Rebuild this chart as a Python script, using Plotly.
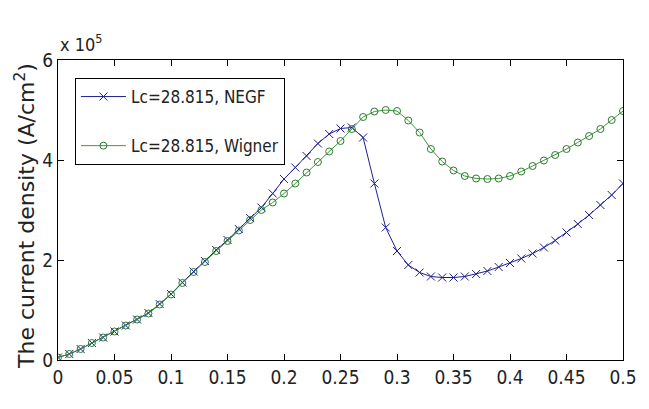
import plotly.graph_objects as go

# Bias voltage (V), sampled every 10 mV
bias = [round(0.01 * i, 2) for i in range(51)]

# Current density in units of 1e5 A/cm^2
negf_j_e5 = [
    0.05, 0.12, 0.22, 0.34, 0.45, 0.57, 0.69, 0.81, 0.94, 1.12,
    1.32, 1.55, 1.77, 1.98, 2.20, 2.40, 2.62, 2.84, 3.05, 3.33,
    3.62, 3.85, 4.08, 4.33, 4.52, 4.63, 4.65, 4.45, 3.53, 2.65,
    2.18, 1.90, 1.75, 1.67, 1.65, 1.65, 1.67, 1.72, 1.78, 1.86,
    1.94, 2.03, 2.13, 2.25, 2.39, 2.55, 2.72, 2.90, 3.10, 3.30,
    3.53,
]
wigner_j_e5 = [
    0.05, 0.12, 0.22, 0.34, 0.45, 0.57, 0.69, 0.81, 0.93, 1.11,
    1.31, 1.54, 1.76, 1.96, 2.18, 2.38, 2.59, 2.80, 3.00, 3.15,
    3.33, 3.53, 3.75, 3.96, 4.17, 4.38, 4.62, 4.86, 4.97, 5.00,
    4.98, 4.79, 4.55, 4.22, 3.97, 3.79, 3.68, 3.63, 3.62, 3.63,
    3.68, 3.77, 3.88, 3.99, 4.10, 4.22, 4.35, 4.48, 4.62, 4.80,
    4.98,
]

series_names = ["Lc=28.815, NEGF", "Lc=28.815, Wigner"]
x_ticks = [0, 0.05, 0.1, 0.15, 0.2, 0.25, 0.3, 0.35, 0.4, 0.45, 0.5]
x_tick_text = ["0", "0.05", "0.1", "0.15", "0.2", "0.25", "0.3", "0.35", "0.4", "0.45", "0.5"]
y_ticks = [0, 2, 4, 6]
y_tick_text = ["0", "2", "4", "6"]

NARROW = "Liberation Sans Narrow, DejaVu Sans Condensed, Arial Narrow, sans-serif"
WIDE = "DejaVu Sans, Verdana, sans-serif"

fig = go.Figure()
fig.add_trace(go.Scatter(
    x=bias, y=negf_j_e5, name=series_names[0], mode="lines+markers",
    legendgroup="a",
    line=dict(color="#1f1f94", width=1),
    marker=dict(symbol="x-thin", size=8, line=dict(color="#1f1f94", width=1)),
))
fig.add_trace(go.Scatter(
    x=bias, y=wigner_j_e5, name=series_names[1], mode="lines+markers",
    legendgroup="b",
    line=dict(color="#3a9a3a", width=1),
    marker=dict(symbol="circle-open", size=7, color="#2f7a2f",
                line=dict(color="#2f7a2f", width=1)),
))

axis_common = dict(
    showline=True, linecolor="black", linewidth=1, mirror="ticks",
    ticks="inside", ticklen=6, tickcolor="black", tickwidth=1,
    showgrid=False, zeroline=False,
    tickfont=dict(family=NARROW, size=19, color="#222"),
)
fig.update_xaxes(range=[0, 0.5], tickvals=x_ticks, ticktext=x_tick_text, **axis_common)
fig.update_yaxes(range=[0, 6], tickvals=y_ticks, ticktext=y_tick_text, **axis_common)

fig.update_layout(
    width=649, height=409,
    margin=dict(l=58, r=16, t=60, b=49),
    paper_bgcolor="white", plot_bgcolor="white",
    showlegend=True,
    legend=dict(
        x=0.03, y=0.94, xanchor="left", yanchor="top",
        bgcolor="white", bordercolor="black", borderwidth=1,
        font=dict(family=NARROW, size=17, color="#222"),
        traceorder="grouped", tracegroupgap=24, itemwidth=45,
    ),
    annotations=[
        dict(text="x 10<sup>5</sup>", xref="paper", yref="paper",
             x=0.0, y=1.0, xanchor="left", yanchor="bottom", yshift=3, showarrow=False,
             font=dict(family=NARROW, size=18, color="#222")),
        dict(text="The current density (A/cm<sup>2</sup>)", xref="paper", yref="paper",
             x=0, y=0.48, xshift=-33, textangle=-90, showarrow=False,
             xanchor="center", yanchor="middle",
             font=dict(family=WIDE, size=22, color="#222")),
    ],
)

fig.write_html("out.html")
